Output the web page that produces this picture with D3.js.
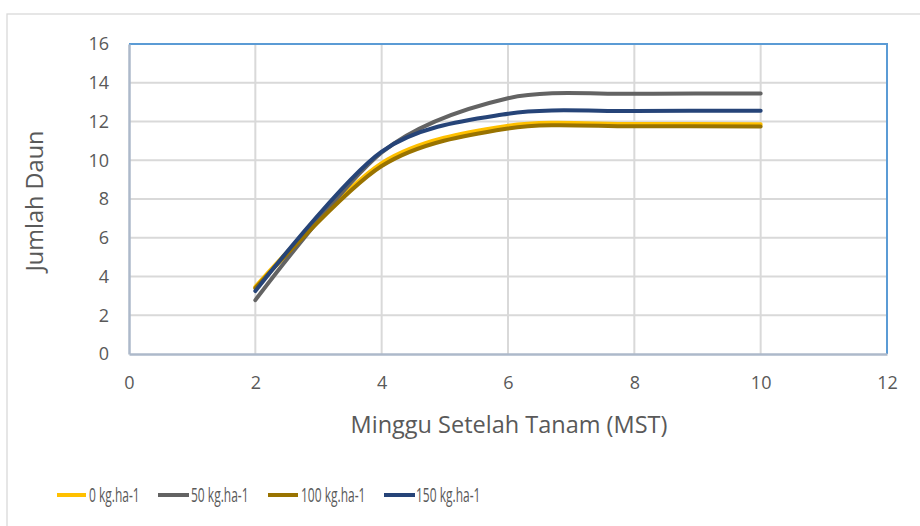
<!DOCTYPE html>
<html>
<head>
<meta charset="utf-8">
<script src="https://cdn.jsdelivr.net/npm/d3@7/dist/d3.min.js"></script>
<style>
  html, body { margin: 0; padding: 0; background: #fff; }
  svg { display: block; font-family: "Open Sans", "Noto Sans", sans-serif; }
</style>
</head>
<body>
<svg id="chart" width="920" height="526"></svg>
<script>
// ---- data ----
const weeks = [2, 4, 6, 8, 10];
const series0 = [3.47, 9.85, 11.78, 11.87, 11.86];
const series50 = [2.78, 10.4, 13.2, 13.43, 13.44];
const series100 = [3.4, 9.7, 11.64, 11.75, 11.74];
const series150 = [3.25, 10.45, 12.4, 12.54, 12.55];
const seriesNames = ["0 kg.ha-1", "50 kg.ha-1", "100 kg.ha-1", "150 kg.ha-1"];
const xTicks = [0, 2, 4, 6, 8, 10, 12];
const yTicks = [0, 2, 4, 6, 8, 10, 12, 14, 16];
const xTitle = "Minggu Setelah Tanam (MST)";
const yTitle = "Jumlah Daun";

const colors = ["#FFC000", "#636363", "#997300", "#264478"];
const allSeries = [series0, series50, series100, series150];

const svg = d3.select("#chart");
const W = 920, H = 526;
const plot = { left: 129, right: 887, top: 44, bottom: 354 };

// outer chart border
svg.append("rect").attr("x", 7).attr("y", 14).attr("width", W + 20).attr("height", H + 20)
  .attr("fill", "#fff").attr("stroke", "#d9d9d9").attr("stroke-width", 1.3);

const x = d3.scaleLinear().domain([0, 12]).range([plot.left, plot.right]);
const y = d3.scaleLinear().domain([0, 16]).range([plot.bottom, plot.top]);

const textColor = "#595959";

// gridlines
svg.append("g").selectAll("line").data(yTicks.filter(v => v > 0)).join("line")
  .attr("x1", plot.left).attr("x2", plot.right)
  .attr("y1", d => y(d)).attr("y2", d => y(d))
  .attr("stroke", "#d9d9d9").attr("stroke-width", 2);
svg.append("g").selectAll("line").data(xTicks.filter(v => v > 0)).join("line")
  .attr("y1", plot.top).attr("y2", plot.bottom)
  .attr("x1", d => x(d)).attr("x2", d => x(d))
  .attr("stroke", "#d9d9d9").attr("stroke-width", 2);

// plot area border (top & right blue)
svg.append("path")
  .attr("d", `M${plot.left},${plot.top}H${plot.right}V${plot.bottom}`)
  .attr("fill", "none").attr("stroke", "#5B9BD5").attr("stroke-width", 2);

// axes
const xAxis = svg.append("g").attr("transform", `translate(0,${plot.bottom})`)
  .call(d3.axisBottom(x).tickValues(xTicks).tickSize(0).tickPadding(18));
const yAxis = svg.append("g").attr("transform", `translate(${plot.left},0)`)
  .call(d3.axisLeft(y).tickValues(yTicks).tickSize(0).tickPadding(20));
[xAxis, yAxis].forEach(a => {
  a.select(".domain").attr("stroke", "#adb9ca").attr("stroke-width", 2.5);
  a.selectAll("text").attr("fill", textColor).attr("font-size", 18)
    .attr("font-family", "'Open Sans', sans-serif");
});
xAxis.selectAll("text").attr("dy", "0.71em").attr("y", 22);

// lines
const line = d3.line()
  .x((d, i) => x(weeks[i]))
  .y(d => y(d))
  .curve(d3.curveCardinal.tension(0.1));
svg.append("g").selectAll("path").data(allSeries).join("path")
  .attr("d", d => line(d))
  .attr("fill", "none")
  .attr("stroke", (d, i) => colors[i])
  .attr("stroke-width", 4)
  .attr("stroke-linecap", "round")
  .attr("stroke-linejoin", "round");

// titles
svg.append("text").attr("x", 509).attr("y", 433).attr("text-anchor", "middle")
  .attr("fill", textColor).attr("font-size", 23.5).text(xTitle);
svg.append("text").attr("transform", "translate(43,201) rotate(-90)")
  .attr("text-anchor", "middle").attr("fill", textColor).attr("font-size", 23.5).text(yTitle);

// legend
const legendItems = [
  { x1: 57, x2: 86, tx: 89 },
  { x1: 158, x2: 189, tx: 191 },
  { x1: 268, x2: 298, tx: 301 },
  { x1: 384, x2: 415, tx: 416 }
];
const lg = svg.append("g");
legendItems.forEach((it, i) => {
  lg.append("line").attr("x1", it.x1).attr("x2", it.x2).attr("y1", 495).attr("y2", 495)
    .attr("stroke", colors[i]).attr("stroke-width", 4);
  const t = lg.append("text").attr("x", it.tx).attr("y", 502)
    .attr("fill", textColor).attr("font-size", 20).text(seriesNames[i]);
  const len = t.node().getComputedTextLength();
  t.attr("textLength", len * 0.6).attr("lengthAdjust", "spacingAndGlyphs");
});
</script>
</body>
</html>
